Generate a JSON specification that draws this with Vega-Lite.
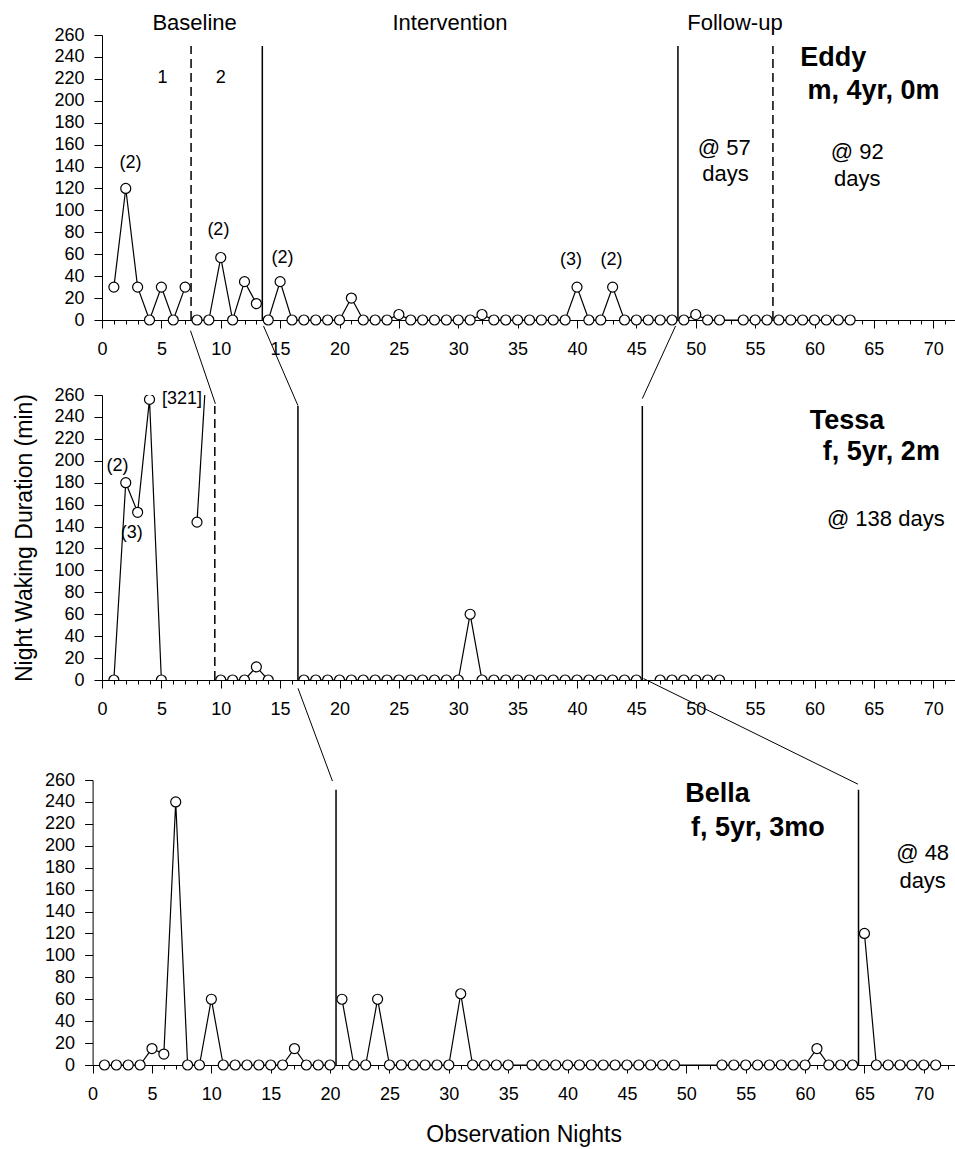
{
  "$schema": "https://vega.github.io/schema/vega-lite/v6.json",
  "padding": {"left": 13, "top": 11, "right": 0, "bottom": 5},
  "config": {
    "font": "Liberation Sans",
    "view": {"stroke": null},
    "axis": {"domainColor": "black", "tickColor": "black", "labelColor": "black", "titleColor": "black", "labelFont": "Liberation Sans", "titleFont": "Liberation Sans", "grid": false, "domainWidth": 1, "tickWidth": 1}
  },
  "datasets": {
    "eddy": [
      {"x":1,"y":30,"seg":"a1"},{"x":2,"y":120,"seg":"a1"},{"x":3,"y":30,"seg":"a1"},{"x":4,"y":0,"seg":"a1"},{"x":5,"y":30,"seg":"a1"},{"x":6,"y":0,"seg":"a1"},{"x":7,"y":30,"seg":"a1"},
      {"x":8,"y":0,"seg":"a2"},{"x":9,"y":0,"seg":"a2"},{"x":10,"y":57,"seg":"a2"},{"x":11,"y":0,"seg":"a2"},{"x":12,"y":35,"seg":"a2"},{"x":13,"y":15,"seg":"a2"},
      {"x":14,"y":0,"seg":"b"},{"x":15,"y":35,"seg":"b"},{"x":16,"y":0,"seg":"b"},{"x":17,"y":0,"seg":"b"},{"x":18,"y":0,"seg":"b"},{"x":19,"y":0,"seg":"b"},{"x":20,"y":0,"seg":"b"},{"x":21,"y":20,"seg":"b"},{"x":22,"y":0,"seg":"b"},{"x":23,"y":0,"seg":"b"},{"x":24,"y":0,"seg":"b"},{"x":25,"y":5,"seg":"b"},{"x":26,"y":0,"seg":"b"},{"x":27,"y":0,"seg":"b"},{"x":28,"y":0,"seg":"b"},{"x":29,"y":0,"seg":"b"},{"x":30,"y":0,"seg":"b"},{"x":31,"y":0,"seg":"b"},{"x":32,"y":5,"seg":"b"},{"x":33,"y":0,"seg":"b"},{"x":34,"y":0,"seg":"b"},{"x":35,"y":0,"seg":"b"},{"x":36,"y":0,"seg":"b"},{"x":37,"y":0,"seg":"b"},{"x":38,"y":0,"seg":"b"},{"x":39,"y":0,"seg":"b"},{"x":40,"y":30,"seg":"b"},{"x":41,"y":0,"seg":"b"},{"x":42,"y":0,"seg":"b"},{"x":43,"y":30,"seg":"b"},{"x":44,"y":0,"seg":"b"},{"x":45,"y":0,"seg":"b"},{"x":46,"y":0,"seg":"b"},{"x":47,"y":0,"seg":"b"},{"x":48,"y":0,"seg":"b"},
      {"x":49,"y":0,"seg":"c1"},{"x":50,"y":5,"seg":"c1"},{"x":51,"y":0,"seg":"c1"},{"x":52,"y":0,"seg":"c1"},{"x":54,"y":0,"seg":"c1"},{"x":55,"y":0,"seg":"c1"},{"x":56,"y":0,"seg":"c1"},
      {"x":57,"y":0,"seg":"c2"},{"x":58,"y":0,"seg":"c2"},{"x":59,"y":0,"seg":"c2"},{"x":60,"y":0,"seg":"c2"},{"x":61,"y":0,"seg":"c2"},{"x":62,"y":0,"seg":"c2"},{"x":63,"y":0,"seg":"c2"}
    ],
    "tessa": [
      {"x":1,"y":0,"seg":"a1"},{"x":2,"y":180,"seg":"a1"},{"x":3,"y":153,"seg":"a1"},{"x":4,"y":256,"seg":"a1"},{"x":5,"y":0,"seg":"a1"},
      {"x":8,"y":144,"seg":"a1b"},{"x":9,"y":321,"seg":"a1b"},
      {"x":10,"y":0,"seg":"a2"},{"x":11,"y":0,"seg":"a2"},{"x":12,"y":0,"seg":"a2"},{"x":13,"y":12,"seg":"a2"},{"x":14,"y":0,"seg":"a2"},
      {"x":17,"y":0,"seg":"b"},{"x":18,"y":0,"seg":"b"},{"x":19,"y":0,"seg":"b"},{"x":20,"y":0,"seg":"b"},{"x":21,"y":0,"seg":"b"},{"x":22,"y":0,"seg":"b"},{"x":23,"y":0,"seg":"b"},{"x":24,"y":0,"seg":"b"},{"x":25,"y":0,"seg":"b"},{"x":26,"y":0,"seg":"b"},{"x":27,"y":0,"seg":"b"},{"x":28,"y":0,"seg":"b"},{"x":29,"y":0,"seg":"b"},{"x":30,"y":0,"seg":"b"},{"x":31,"y":60,"seg":"b"},{"x":32,"y":0,"seg":"b"},{"x":33,"y":0,"seg":"b"},{"x":34,"y":0,"seg":"b"},{"x":35,"y":0,"seg":"b"},{"x":36,"y":0,"seg":"b"},{"x":37,"y":0,"seg":"b"},{"x":38,"y":0,"seg":"b"},{"x":39,"y":0,"seg":"b"},{"x":40,"y":0,"seg":"b"},{"x":41,"y":0,"seg":"b"},{"x":42,"y":0,"seg":"b"},{"x":43,"y":0,"seg":"b"},{"x":44,"y":0,"seg":"b"},{"x":45,"y":0,"seg":"b"},
      {"x":47,"y":0,"seg":"c"},{"x":48,"y":0,"seg":"c"},{"x":49,"y":0,"seg":"c"},{"x":50,"y":0,"seg":"c"},{"x":51,"y":0,"seg":"c"},{"x":52,"y":0,"seg":"c"}
    ],
    "bella": [
      {"x":1,"y":0,"seg":"a"},{"x":2,"y":0,"seg":"a"},{"x":3,"y":0,"seg":"a"},{"x":4,"y":0,"seg":"a"},{"x":5,"y":15,"seg":"a"},{"x":6,"y":10,"seg":"a"},{"x":7,"y":240,"seg":"a"},{"x":8,"y":0,"seg":"a"},{"x":9,"y":0,"seg":"a"},{"x":10,"y":60,"seg":"a"},{"x":11,"y":0,"seg":"a"},{"x":12,"y":0,"seg":"a"},{"x":13,"y":0,"seg":"a"},{"x":14,"y":0,"seg":"a"},{"x":15,"y":0,"seg":"a"},{"x":16,"y":0,"seg":"a"},{"x":17,"y":15,"seg":"a"},{"x":18,"y":0,"seg":"a"},{"x":19,"y":0,"seg":"a"},{"x":20,"y":0,"seg":"a"},
      {"x":21,"y":60,"seg":"b"},{"x":22,"y":0,"seg":"b"},{"x":23,"y":0,"seg":"b"},{"x":24,"y":60,"seg":"b"},{"x":25,"y":0,"seg":"b"},{"x":26,"y":0,"seg":"b"},{"x":27,"y":0,"seg":"b"},{"x":28,"y":0,"seg":"b"},{"x":29,"y":0,"seg":"b"},{"x":30,"y":0,"seg":"b"},{"x":31,"y":65,"seg":"b"},{"x":32,"y":0,"seg":"b"},{"x":33,"y":0,"seg":"b"},{"x":34,"y":0,"seg":"b"},{"x":35,"y":0,"seg":"b"},
      {"x":37,"y":0,"seg":"b"},{"x":38,"y":0,"seg":"b"},{"x":39,"y":0,"seg":"b"},{"x":40,"y":0,"seg":"b"},{"x":41,"y":0,"seg":"b"},{"x":42,"y":0,"seg":"b"},{"x":43,"y":0,"seg":"b"},{"x":44,"y":0,"seg":"b"},{"x":45,"y":0,"seg":"b"},{"x":46,"y":0,"seg":"b"},{"x":47,"y":0,"seg":"b"},{"x":48,"y":0,"seg":"b"},{"x":49,"y":0,"seg":"b"},
      {"x":53,"y":0,"seg":"b"},{"x":54,"y":0,"seg":"b"},{"x":55,"y":0,"seg":"b"},{"x":56,"y":0,"seg":"b"},{"x":57,"y":0,"seg":"b"},{"x":58,"y":0,"seg":"b"},{"x":59,"y":0,"seg":"b"},{"x":60,"y":0,"seg":"b"},{"x":61,"y":15,"seg":"b"},{"x":62,"y":0,"seg":"b"},{"x":63,"y":0,"seg":"b"},{"x":64,"y":0,"seg":"b"},
      {"x":65,"y":120,"seg":"c"},{"x":66,"y":0,"seg":"c"},{"x":67,"y":0,"seg":"c"},{"x":68,"y":0,"seg":"c"},{"x":69,"y":0,"seg":"c"},{"x":70,"y":0,"seg":"c"},{"x":71,"y":0,"seg":"c"}
    ],
    "eddyRules": [{"x":7.5,"y":0,"y2":250,"style":"dashed"},{"x":13.5,"y":0,"y2":250,"style":"solid"},{"x":48.5,"y":0,"y2":250,"style":"solid"},{"x":56.5,"y":0,"y2":250,"style":"dashed"}],
    "tessaRules": [{"x":9.5,"y":0,"y2":250,"style":"dashed"},{"x":16.5,"y":0,"y2":250,"style":"solid"},{"x":45.5,"y":0,"y2":250,"style":"solid"}],
    "bellaRules": [{"x":20.5,"y":0,"y2":251,"style":"solid"},{"x":64.5,"y":0,"y2":251,"style":"solid"}],
    "eddyHead": [{"x":7.8,"y":265,"t":"Baseline"},{"x":29.3,"y":265,"t":"Intervention"},{"x":53.3,"y":265,"t":"Follow-up"}],
    "eddyAnn": [{"x":5.1,"y":221,"t":"1"},{"x":10,"y":221,"t":"2"},{"x":2.4,"y":143,"t":"(2)"},{"x":9.8,"y":82,"t":"(2)"},{"x":15.2,"y":56.6,"t":"(2)"},{"x":39.5,"y":54.7,"t":"(3)"},{"x":42.9,"y":54.7,"t":"(2)"}],
    "eddyNote": [{"x":52.4,"y":157,"t":"@ 57"},{"x":52.5,"y":133.5,"t":"days"},{"x":63.6,"y":153,"t":"@ 92"},{"x":63.6,"y":128.6,"t":"days"}],
    "eddyName": [{"x":58.8,"y":239,"t":"Eddy"},{"x":59.4,"y":209,"t":"m, 4yr, 0m"}],
    "tessaAnn": [{"x":1.3,"y":195.5,"t":"(2)"},{"x":2.5,"y":134,"t":"(3)"},{"x":6.74,"y":256.4,"t":"[321]"}],
    "tessaNote": [{"x":66.0,"y":147,"t":"@ 138 days"}],
    "tessaName": [{"x":59.6,"y":236.6,"t":"Tessa"},{"x":60.7,"y":207.7,"t":"f, 5yr, 2m"}],
    "bellaNote": [{"x":69.9,"y":193.4,"t":"@ 48"},{"x":69.9,"y":168,"t":"days"}],
    "bellaName": [{"x":49.9,"y":247.3,"t":"Bella"},{"x":50.4,"y":216.3,"t":"f, 5yr, 3mo"}],
    "tessaConn": [{"x":7.45,"y":318.7,"id":"c1"},{"x":9.55,"y":252,"id":"c1"},{"x":13.6,"y":323,"id":"c2"},{"x":16.5,"y":250.3,"id":"c2"},{"x":48.3,"y":323,"id":"c3"},{"x":45.5,"y":256.7,"id":"c3"}],
    "bellaConn": [{"x":17.3,"y":343.6,"id":"c4"},{"x":20.2,"y":259,"id":"c4"},{"x":46.4,"y":352.5,"id":"c5"},{"x":64.45,"y":256.2,"id":"c5"}]
  },
  "bounds": "flush",
  "spacing": 745,
  "resolve": {"scale": {"x": "independent", "y": "independent"}},
  "vconcat": [
    {
      "bounds": "flush",
      "spacing": 75,
      "resolve": {"scale": {"x": "independent", "y": "independent"}},
      "vconcat": [
        {
          "width": 855, "height": 285,
          "encoding": {
            "x": {"field": "x", "type": "quantitative", "scale": {"domain": [0, 72], "nice": false, "zero": false},
              "axis": {"values": [0,1,2,3,4,5,6,7,8,9,10,11,12,13,14,15,16,17,18,19,20,21,22,23,24,25,26,27,28,29,30,31,32,33,34,35,36,37,38,39,40,41,42,43,44,45,46,47,48,49,50,51,52,53,54,55,56,57,58,59,60,61,62,63,64,65,66,67,68,69,70,71,72],
                "labelExpr": "datum.value % 5 === 0 ? datum.label : ''", "labelOverlap": false, "labelFlush": false, "labelFontSize": 18, "labelPadding": 12,
                "tickSize": {"condition": {"test": "datum.value % 5 === 0", "value": 8}, "value": 4}, "title": null}},
            "y": {"field": "y", "type": "quantitative", "scale": {"domain": [0, 260], "nice": false, "zero": false},
              "axis": {"values": [0,20,40,60,80,100,120,140,160,180,200,220,240,260], "tickSize": 8, "labelPadding": 10, "labelFontSize": 18, "title": null}}
          },
          "layer": [
            {"data": {"name": "eddyRules"}, "mark": {"type": "rule", "color": "black", "strokeWidth": 1.5},
              "encoding": {"y2": {"field": "y2"}, "strokeDash": {"field": "style", "type": "nominal", "scale": {"domain": ["solid", "dashed"], "range": [[1, 0], [9, 5]]}, "legend": null}}},
            {"data": {"name": "eddy"}, "mark": {"type": "line", "color": "black", "strokeWidth": 1.2, "clip": true}, "encoding": {"detail": {"field": "seg"}}},
            {"data": {"name": "eddy"}, "mark": {"type": "point", "shape": "circle", "filled": true, "fill": "white", "stroke": "black", "strokeWidth": 1.2, "size": 100, "opacity": 1}},
            {"data": {"name": "eddyHead"}, "mark": {"type": "text", "fontSize": 22, "align": "center", "baseline": "alphabetic", "color": "black"}, "encoding": {"text": {"field": "t"}}},
            {"data": {"name": "eddyAnn"}, "mark": {"type": "text", "fontSize": 18, "align": "center", "baseline": "middle", "color": "black"}, "encoding": {"text": {"field": "t"}}},
            {"data": {"name": "eddyNote"}, "mark": {"type": "text", "fontSize": 22, "align": "center", "baseline": "middle", "color": "black"}, "encoding": {"text": {"field": "t"}}},
            {"data": {"name": "eddyName"}, "mark": {"type": "text", "fontSize": 27, "fontWeight": "bold", "align": "left", "baseline": "middle", "color": "black"}, "encoding": {"text": {"field": "t"}}}
          ]
        },
        {
          "width": 855, "height": 285,
          "encoding": {
            "x": {"field": "x", "type": "quantitative", "scale": {"domain": [0, 72], "nice": false, "zero": false},
              "axis": {"values": [0,1,2,3,4,5,6,7,8,9,10,11,12,13,14,15,16,17,18,19,20,21,22,23,24,25,26,27,28,29,30,31,32,33,34,35,36,37,38,39,40,41,42,43,44,45,46,47,48,49,50,51,52,53,54,55,56,57,58,59,60,61,62,63,64,65,66,67,68,69,70,71,72],
                "labelExpr": "datum.value % 5 === 0 ? datum.label : ''", "labelOverlap": false, "labelFlush": false, "labelFontSize": 18, "labelPadding": 12,
                "tickSize": {"condition": {"test": "datum.value % 5 === 0", "value": 8}, "value": 4}, "title": null}},
            "y": {"field": "y", "type": "quantitative", "scale": {"domain": [0, 260], "nice": false, "zero": false},
              "axis": {"values": [0,20,40,60,80,100,120,140,160,180,200,220,240,260], "tickSize": 8, "labelPadding": 10, "labelFontSize": 18,
                "title": "Night Waking Duration (min)", "titleFontSize": 23, "titleFontWeight": "normal", "titlePadding": 17}}
          },
          "layer": [
            {"data": {"name": "tessaRules"}, "mark": {"type": "rule", "color": "black", "strokeWidth": 1.5},
              "encoding": {"y2": {"field": "y2"}, "strokeDash": {"field": "style", "type": "nominal", "scale": {"domain": ["solid", "dashed"], "range": [[1, 0], [9, 5]]}, "legend": null}}},
            {"data": {"name": "tessa"}, "mark": {"type": "line", "color": "black", "strokeWidth": 1.2, "clip": true}, "encoding": {"detail": {"field": "seg"}}},
            {"data": {"name": "tessa"}, "mark": {"type": "point", "shape": "circle", "filled": true, "fill": "white", "stroke": "black", "strokeWidth": 1.2, "size": 100, "opacity": 1, "clip": true}},
            {"data": {"name": "tessaConn"}, "mark": {"type": "line", "color": "black", "strokeWidth": 1, "clip": false}, "encoding": {"detail": {"field": "id"}}},
            {"data": {"name": "tessaAnn"}, "mark": {"type": "text", "fontSize": 18, "align": "center", "baseline": "middle", "color": "black"}, "encoding": {"text": {"field": "t"}}},
            {"data": {"name": "tessaNote"}, "mark": {"type": "text", "fontSize": 22, "align": "center", "baseline": "middle", "color": "black"}, "encoding": {"text": {"field": "t"}}},
            {"data": {"name": "tessaName"}, "mark": {"type": "text", "fontSize": 27, "fontWeight": "bold", "align": "left", "baseline": "middle", "color": "black"}, "encoding": {"text": {"field": "t"}}}
          ]
        }
      ]
    },
    {
      "width": 855, "height": 285,
      "encoding": {
        "x": {"field": "x", "type": "quantitative", "scale": {"domain": [0, 72.6], "range": [-9.4, 852.7], "nice": false, "zero": false},
          "axis": {"values": [0,1,2,3,4,5,6,7,8,9,10,11,12,13,14,15,16,17,18,19,20,21,22,23,24,25,26,27,28,29,30,31,32,33,34,35,36,37,38,39,40,41,42,43,44,45,46,47,48,49,50,51,52,53,54,55,56,57,58,59,60,61,62,63,64,65,66,67,68,69,70,71,72],
            "labelExpr": "datum.value % 5 === 0 ? datum.label : ''", "labelOverlap": false, "labelFlush": false, "labelFontSize": 18, "labelPadding": 12,
            "tickSize": {"condition": {"test": "datum.value % 5 === 0", "value": 8}, "value": 4},
            "title": "Observation Nights", "titleFontSize": 23, "titleFontWeight": "normal", "titlePadding": 20}},
        "y": {"field": "y", "type": "quantitative", "scale": {"domain": [0, 260], "nice": false, "zero": false},
          "axis": {"values": [0,20,40,60,80,100,120,140,160,180,200,220,240,260], "tickSize": 8, "labelPadding": 10, "labelFontSize": 18, "title": null, "offset": 9.4}}
      },
      "layer": [
        {"data": {"name": "bellaRules"}, "mark": {"type": "rule", "color": "black", "strokeWidth": 1.5}, "encoding": {"y2": {"field": "y2"}}},
        {"data": {"name": "bella"}, "mark": {"type": "line", "color": "black", "strokeWidth": 1.2, "clip": false}, "encoding": {"detail": {"field": "seg"}}},
        {"data": {"name": "bella"}, "mark": {"type": "point", "shape": "circle", "filled": true, "fill": "white", "stroke": "black", "strokeWidth": 1.2, "size": 100, "opacity": 1, "clip": false}},
        {"data": {"name": "bellaConn"}, "mark": {"type": "line", "color": "black", "strokeWidth": 1, "clip": false}, "encoding": {"detail": {"field": "id"}}},
        {"data": {"name": "bellaNote"}, "mark": {"type": "text", "fontSize": 22, "align": "center", "baseline": "middle", "color": "black"}, "encoding": {"text": {"field": "t"}}},
        {"data": {"name": "bellaName"}, "mark": {"type": "text", "fontSize": 27, "fontWeight": "bold", "align": "left", "baseline": "middle", "color": "black"}, "encoding": {"text": {"field": "t"}}}
      ]
    }
  ]
}
